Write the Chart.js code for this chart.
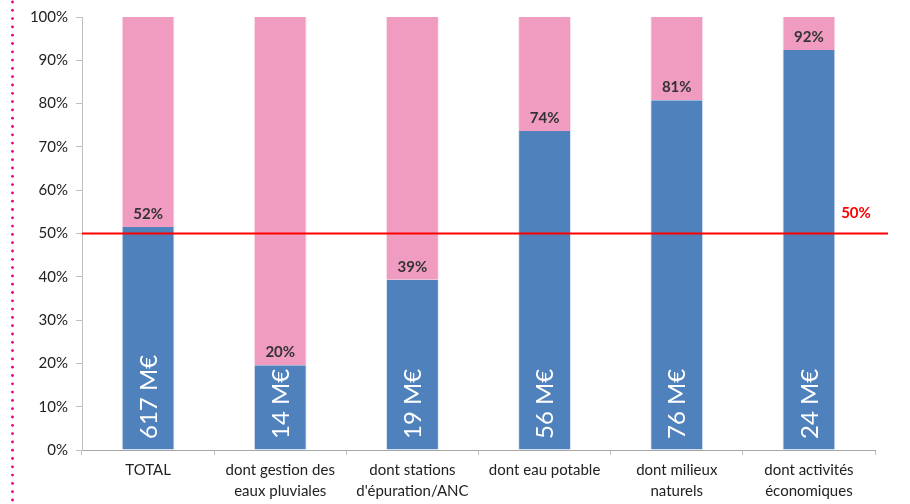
<!DOCTYPE html>
<html>
<head>
<meta charset="utf-8">
<script src="https://cdn.jsdelivr.net/npm/chart.js@4/dist/chart.umd.min.js"></script>
<style>
  html, body { margin: 0; padding: 0; background: #fff; }
  #wrap { width: 910px; height: 504px; position: relative; }
</style>
</head>
<body>
<div id="wrap"><canvas id="chart"></canvas></div>
<script>
const categories = [
  'TOTAL',
  ['dont gestion des', 'eaux pluviales'],
  ['dont stations', "d'épuration/ANC"],
  'dont eau potable',
  ['dont milieux', 'naturels'],
  ['dont activités', 'économiques']
];
const shareValues = [51.5, 19.6, 39.3, 73.7, 80.8, 92.4];
const shareLabels = ['52%', '20%', '39%', '74%', '81%', '92%'];
const amountLabels = ['617 M€', '14 M€', '19 M€', '56 M€', '76 M€', '24 M€'];
const thresholdValue = 50;
const thresholdLabel = '50%';

const FONT = 'Lato, "Open Sans", sans-serif';

const annotations = {
  id: 'annotations',
  afterDatasetsDraw(chart) {
    const {ctx, chartArea, scales: {x, y}} = chart;
    const meta = chart.getDatasetMeta(0);
    ctx.save();
    meta.data.forEach((bar, i) => {
      // percentage above the blue part
      ctx.fillStyle = '#333333';
      ctx.font = 'bold 15px ' + FONT;
      ctx.textAlign = 'center';
      ctx.textBaseline = 'middle';
      ctx.fillText(shareLabels[i], bar.x, bar.y - 13);
      // amount, rotated, inside the blue part
      ctx.save();
      ctx.translate(bar.x, chartArea.bottom - 11);
      ctx.rotate(-Math.PI / 2);
      ctx.fillStyle = '#ffffff';
      ctx.font = '24px ' + FONT;
      ctx.textAlign = 'left';
      ctx.textBaseline = 'middle';
      ctx.fillText(amountLabels[i], 0, 1);
      ctx.restore();
    });
    // 50% line
    const yy = y.getPixelForValue(thresholdValue);
    ctx.strokeStyle = '#ff0000';
    ctx.lineWidth = 2;
    ctx.beginPath();
    ctx.moveTo(chartArea.left, yy);
    ctx.lineTo(888, yy);
    ctx.stroke();
    ctx.fillStyle = '#ff0000';
    ctx.font = 'bold 15px ' + FONT;
    ctx.textAlign = 'center';
    ctx.textBaseline = 'middle';
    ctx.fillText(thresholdLabel, 856, yy - 20);
    // dotted frame line on the left
    ctx.fillStyle = '#e6007e';
    for (let d = 2; d < 504; d += 8.3) {
      ctx.beginPath();
      ctx.arc(12.5, d, 1.4, 0, Math.PI * 2);
      ctx.fill();
    }
    ctx.restore();
  }
};

new Chart(document.getElementById('chart'), {
  type: 'bar',
  data: {
    labels: categories,
    datasets: [
      {
        label: 'part',
        data: shareValues,
        backgroundColor: '#4f81bd',
        borderColor: '#dce6f2',
        borderWidth: {left: 1, right: 1},
        barPercentage: 0.4,
        categoryPercentage: 1
      },
      {
        label: 'reste',
        data: shareValues.map(v => 100 - v),
        backgroundColor: '#f09bc0',
        borderColor: '#fbe0ec',
        borderWidth: {left: 1, right: 1},
        barPercentage: 0.4,
        categoryPercentage: 1
      }
    ]
  },
  options: {
    responsive: true,
    maintainAspectRatio: false,
    animation: false,
    layout: { padding: { top: 17, right: 35, left: 0, bottom: 0 } },
    plugins: { legend: { display: false }, tooltip: { enabled: false } },
    scales: {
      x: {
        stacked: true,
        afterFit(s) { s.height = 54; },
        border: { color: '#a6a6a6', width: 1 },
        grid: { offset: true, drawOnChartArea: false, tickLength: 5, color: '#bfbfbf' },
        ticks: {
          color: '#222222',
          font: { family: FONT, size: 15, lineHeight: 1.45 },
          padding: 4,
          maxRotation: 0,
          autoSkip: false
        }
      },
      y: {
        stacked: true,
        min: 0,
        max: 100,
        afterFit(s) { s.width = 82; },
        border: { color: '#bfbfbf', width: 1 },
        grid: { drawOnChartArea: false, tickLength: 6, color: '#bfbfbf' },
        ticks: {
          stepSize: 10,
          color: '#222222',
          font: { family: FONT, size: 15 },
          padding: 8,
          callback: v => v + '%'
        }
      }
    }
  },
  plugins: [annotations]
});
</script>
</body>
</html>
